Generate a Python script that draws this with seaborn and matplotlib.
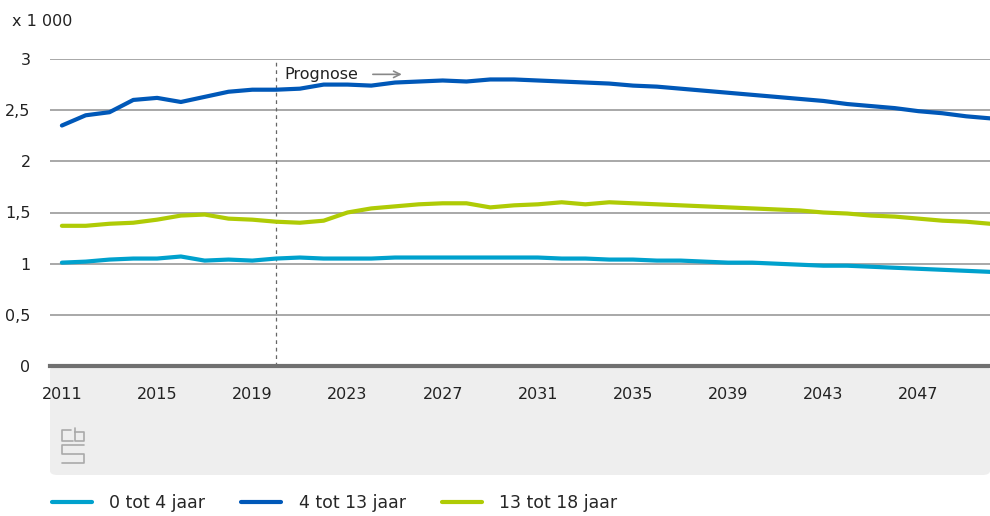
import numpy as np
import pandas as pd
import matplotlib
matplotlib.use('Agg')
import matplotlib.pyplot as plt
import seaborn as sns
from matplotlib.patches import FancyBboxPatch
from matplotlib.lines import Line2D

years = list(range(2011, 2051))

age_0_4 = [1.01, 1.02, 1.04, 1.05, 1.05, 1.07, 1.03, 1.04, 1.03, 1.05,
           1.06, 1.05, 1.05, 1.05, 1.06, 1.06, 1.06, 1.06, 1.06, 1.06,
           1.06, 1.05, 1.05, 1.04, 1.04, 1.03, 1.03, 1.02, 1.01, 1.01,
           1.00, 0.99, 0.98, 0.98, 0.97, 0.96, 0.95, 0.94, 0.93, 0.92]
age_4_13 = [2.35, 2.45, 2.48, 2.60, 2.62, 2.58, 2.63, 2.68, 2.70, 2.70,
            2.71, 2.75, 2.75, 2.74, 2.77, 2.78, 2.79, 2.78, 2.80, 2.80,
            2.79, 2.78, 2.77, 2.76, 2.74, 2.73, 2.71, 2.69, 2.67, 2.65,
            2.63, 2.61, 2.59, 2.56, 2.54, 2.52, 2.49, 2.47, 2.44, 2.42]
age_13_18 = [1.37, 1.37, 1.39, 1.40, 1.43, 1.47, 1.48, 1.44, 1.43, 1.41,
             1.40, 1.42, 1.50, 1.54, 1.56, 1.58, 1.59, 1.59, 1.55, 1.57,
             1.58, 1.60, 1.58, 1.60, 1.59, 1.58, 1.57, 1.56, 1.55, 1.54,
             1.53, 1.52, 1.50, 1.49, 1.47, 1.46, 1.44, 1.42, 1.41, 1.39]

labels = ['0 tot 4 jaar', '4 tot 13 jaar', '13 tot 18 jaar']
colors = ['#00a1cd', '#0058b8', '#afcb05']
xticks = list(range(2011, 2048, 4))
yticks = [0, 0.5, 1, 1.5, 2, 2.5, 3]
ytick_labels = ['0', '0,5', '1', '1,5', '2', '2,5', '3']

df = pd.DataFrame({
    'jaar': years * 3,
    'waarde': age_0_4 + age_4_13 + age_13_18,
    'groep': [labels[0]] * 40 + [labels[1]] * 40 + [labels[2]] * 40,
})

sns.set_style('white')
plt.rcParams['font.family'] = ['DejaVu Sans']
plt.rcParams['font.size'] = 11.5

fig = plt.figure(figsize=(9.9, 5.16), dpi=100)

# grey footer band behind the x labels
band = FancyBboxPatch((50 / 990, 1 - 475 / 516), 940 / 990, 109 / 516,
                      boxstyle='round,pad=0,rounding_size=0.008',
                      transform=fig.transFigure, facecolor='#eeeeee',
                      edgecolor='none', zorder=-5)
fig.patches.append(band)

ax = fig.add_axes([50 / 990, 1 - 366 / 516, 940 / 990, 307 / 516])
ax.patch.set_alpha(0)

sns.lineplot(data=df, x='jaar', y='waarde', hue='groep', palette=colors,
             linewidth=3, ax=ax, legend=False, zorder=3)

ax.set_xlim(2010.5, 2050)
ax.set_ylim(0, 3)
ax.set_yticks(yticks)
ax.set_yticklabels(ytick_labels)
ax.set_xticks(xticks)
ax.set_xticklabels([str(x) for x in xticks])
ax.set_xlabel('')
ax.set_ylabel('')
ax.grid(axis='y', color='#999999', linewidth=1.2)
ax.grid(axis='x', visible=False)
for s in ['top', 'right', 'left']:
    ax.spines[s].set_visible(False)
ax.spines['bottom'].set_color('#707070')
ax.spines['bottom'].set_linewidth(3)
ax.tick_params(axis='y', length=0, pad=14, labelcolor='#222222')
ax.tick_params(axis='x', length=8, width=1.5, color='#cccccc', pad=7,
               labelcolor='#222222')

ax.axvline(2020, color='#666666', linestyle=(0, (3, 3)), linewidth=0.9, zorder=2)
ax.annotate('', xy=(2025.4, 2.85), xytext=(2023.95, 2.85),
            arrowprops=dict(arrowstyle='->', color='#888888', lw=1.2))
ax.text(2020.35, 2.85, 'Prognose', va='center', ha='left', color='#222222')

fig.text(12 / 990, 1 - 22 / 516, 'x 1 000', va='center', ha='left', color='#222222')

# simple cbs mark in the footer
logo = [
    [(71, 430), (62, 430), (62, 441), (73, 441)],
    [(75, 428), (75, 441), (84, 441), (84, 432), (75, 432)],
    [(84, 445), (62, 445), (62, 454), (84, 454), (84, 463), (62, 463)],
]
for pts in logo:
    xs = [p[0] / 990 for p in pts]
    ys = [1 - p[1] / 516 for p in pts]
    fig.add_artist(Line2D(xs, ys, color='#aaaaaa', linewidth=1.2))

handles = [Line2D([], [], color=c, linewidth=3) for c in colors]
fig.legend(handles, labels, loc='lower left', bbox_to_anchor=(36 / 990, -12 / 516),
           ncol=3, frameon=False, handlelength=2.3, handletextpad=1.0,
           columnspacing=2.1, fontsize=12.5)

fig.savefig('out.png', dpi=100)
